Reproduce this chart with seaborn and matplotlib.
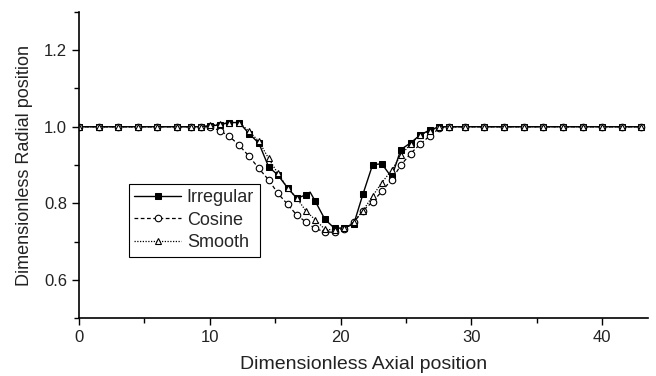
import matplotlib
matplotlib.use("Agg")
import matplotlib.pyplot as plt
import seaborn as sns
import pandas as pd
from matplotlib.ticker import MultipleLocator

# ---- data ----
x_common = [0, 1.5, 3, 4.5, 6, 7.5, 8.6, 9.3, 10.05, 10.75, 11.5, 12.25, 13.0, 13.75,
            14.5, 15.2, 15.95, 16.65, 17.35, 18.05, 18.8, 19.55, 20.25, 21.0, 21.7,
            22.45, 23.15, 23.9, 24.6, 25.35, 26.1, 26.85, 27.55, 28.3, 29.5, 31,
            32.5, 34, 35.5, 37, 38.5, 40, 41.5, 43]

irregular_x = [0, 1.5, 3, 4.5, 6, 7.5, 8.6, 9.3, 10.05, 10.75, 11.5, 12.25, 13.0, 13.75,
               14.5, 15.2, 15.95, 16.65, 17.35, 17.67, 18.05, 18.8, 19.55, 20.25, 21.0,
               21.7, 22.45, 23.15, 23.9, 24.6, 25.35, 26.1, 26.85, 27.55, 28.3, 29.5,
               31, 32.5, 34, 35.5, 37, 38.5, 40, 41.5, 43]
irregular_y = [1.0, 1.0, 1.0, 1.0, 1.0, 1.0, 1.0, 1.0, 1.002, 1.005, 1.011, 1.011, 0.982,
               0.957, 0.895, 0.874, 0.84, 0.813, 0.822, 0.829, 0.806, 0.758, 0.734, 0.736,
               0.745, 0.823, 0.901, 0.903, 0.868, 0.94, 0.958, 0.979, 0.992, 1.0, 1.0,
               1.0, 1.0, 1.0, 1.0, 1.0, 1.0, 1.0, 1.0, 1.0, 1.0]

cosine_y = [1.0, 1.0, 1.0, 1.0, 1.0, 1.0, 1.0, 1.0, 1.0, 0.99, 0.975, 0.951, 0.923, 0.891,
            0.861, 0.826, 0.797, 0.769, 0.751, 0.734, 0.725, 0.724, 0.732, 0.75, 0.78,
            0.804, 0.831, 0.862, 0.899, 0.93, 0.955, 0.977, 0.996, 1.0, 1.0, 1.0,
            1.0, 1.0, 1.0, 1.0, 1.0, 1.0, 1.0, 1.0]

smooth_y = [1.0, 1.0, 1.0, 1.0, 1.0, 1.0, 1.0, 1.0, 1.004, 1.007, 1.011, 1.011, 0.988, 0.962,
            0.917, 0.878, 0.84, 0.813, 0.78, 0.757, 0.732, 0.73, 0.734, 0.751, 0.78,
            0.819, 0.854, 0.886, 0.925, 0.955, 0.979, 0.99, 1.0, 1.0, 1.0, 1.0,
            1.0, 1.0, 1.0, 1.0, 1.0, 1.0, 1.0, 1.0]

x_ticks = [0, 10, 20, 30, 40]
y_ticks = [0.6, 0.8, 1.0, 1.2]

sns.set_style("ticks")
plt.rcParams['font.family'] = ['Liberation Sans', 'DejaVu Sans']

fig = plt.figure(figsize=(6.56, 3.76), dpi=100)
ax = fig.add_axes([79 / 656, 1 - 318 / 376, (648 - 79) / 656, (318 - 12) / 376])

df_irr = pd.DataFrame({"x": irregular_x, "y": irregular_y})
df_cos = pd.DataFrame({"x": x_common, "y": cosine_y})
df_smo = pd.DataFrame({"x": x_common, "y": smooth_y})

hidden = irregular_x.index(17.67)
mark_irr = [i for i in range(len(irregular_x)) if i != hidden]

sns.lineplot(data=df_irr, x="x", y="y", ax=ax, color="black", lw=1.0,
             marker="s", markersize=4.4, markerfacecolor="black",
             markeredgecolor="black", markevery=mark_irr, label="Irregular",
             sort=False, estimator=None)
sns.lineplot(data=df_cos, x="x", y="y", ax=ax, color="black", lw=0.9,
             linestyle=(0, (3, 2)), marker="o", markersize=4.7,
             markerfacecolor="white", markeredgecolor="black",
             markeredgewidth=0.8, label="Cosine", sort=False, estimator=None)
sns.lineplot(data=df_smo, x="x", y="y", ax=ax, color="black", lw=0.9,
             linestyle=(0, (1, 1.2)), marker="^", markersize=4.7,
             markerfacecolor="white", markeredgecolor="black",
             markeredgewidth=0.8, label="Smooth", sort=False, estimator=None)

ax.set_xlim(0, 43.5)
ax.set_ylim(0.5, 1.3)
ax.set_xticks(x_ticks)
ax.set_yticks(y_ticks)
ax.set_yticklabels([f"{v:.1f}" for v in y_ticks])
ax.xaxis.set_minor_locator(MultipleLocator(5))
ax.yaxis.set_minor_locator(MultipleLocator(0.1))
ax.tick_params(which="major", direction="out", length=5, width=1.0,
               labelsize=12, color="black", labelcolor="#222222")
ax.tick_params(which="minor", direction="out", length=3.5, width=1.0, color="black")
for s in ["top", "right"]:
    ax.spines[s].set_visible(False)
for s in ["left", "bottom"]:
    ax.spines[s].set_linewidth(1.2)
    ax.spines[s].set_color("black")

ax.set_xlabel("Dimensionless Axial position", fontsize=14, color="#222222", labelpad=8)
ax.set_ylabel("Dimensionless Radial position", fontsize=13, color="#222222", labelpad=8)

leg = ax.legend(loc="upper left", bbox_to_anchor=(0.088, 0.438), borderaxespad=0,
                fontsize=13, frameon=True, fancybox=False, edgecolor="black",
                handlelength=2.6, handletextpad=0.3, labelspacing=0.3,
                borderpad=0.3)
leg.get_frame().set_linewidth(0.8)
leg.get_frame().set_alpha(1)

fig.savefig("out.png", dpi=100)
